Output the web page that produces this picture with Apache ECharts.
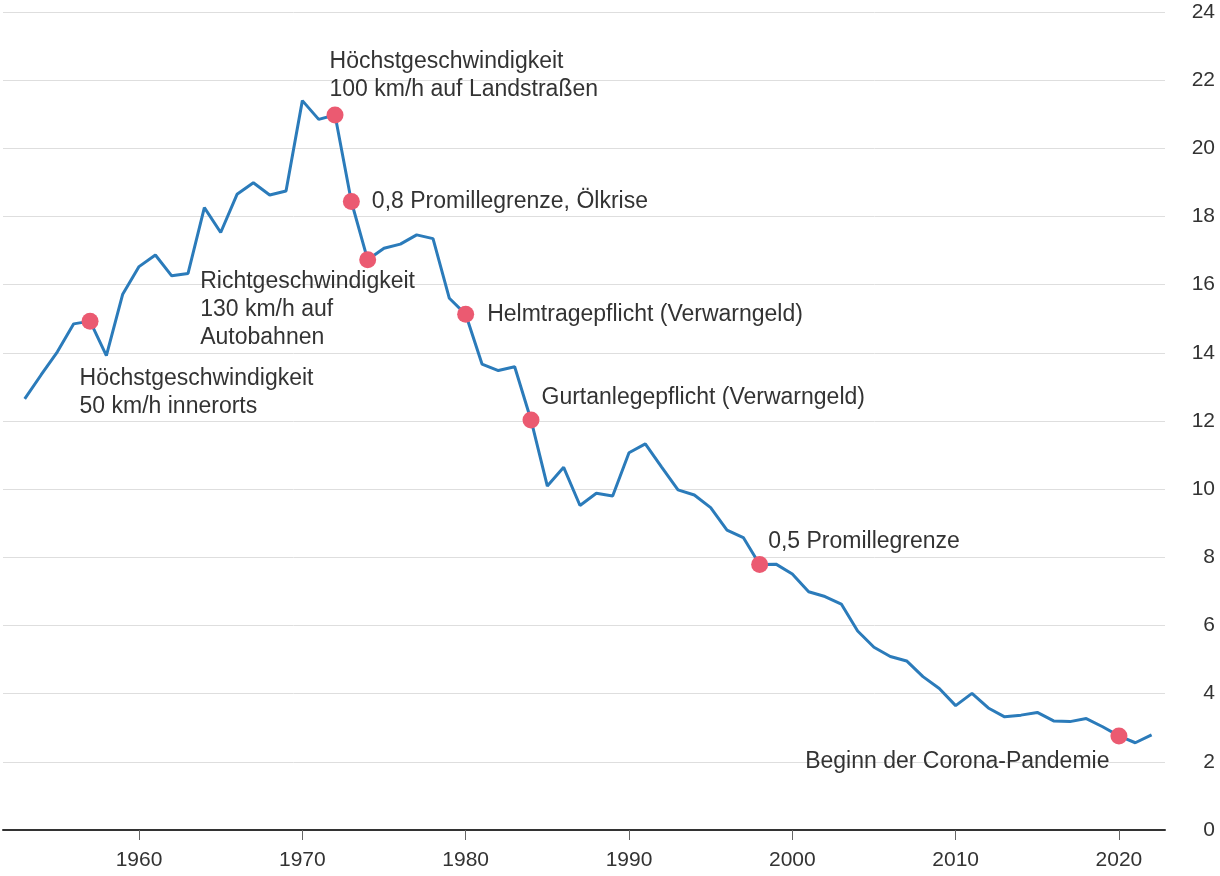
<!DOCTYPE html>
<html>
<head>
<meta charset="utf-8">
<script src="https://cdn.jsdelivr.net/npm/echarts@6/dist/echarts.min.js"></script>
<style>
html,body{margin:0;padding:0;background:#fff;}
#chart{width:1220px;height:876px;}
</style>
</head>
<body>
<div id="chart"></div>
<script>
// ---- data ----
const years = [1953,1954,1955,1956,1957,1958,1959,1960,1961,1962,1963,1964,1965,1966,1967,1968,1969,
  1970,1971,1972,1973,1974,1975,1976,1977,1978,1979,1980,1981,1982,1983,1984,1985,1986,1987,1988,1989,
  1990,1991,1992,1993,1994,1995,1996,1997,1998,1999,2000,2001,2002,2003,2004,2005,2006,2007,2008,2009,
  2010,2011,2012,2013,2014,2015,2016,2017,2018,2019,2020,2021,2022];
const values = [12.65,13.35,14.03,14.85,14.93,13.92,15.72,16.53,16.87,16.26,16.33,18.26,17.53,18.65,18.99,18.63,18.75,
  21.40,20.85,20.98,18.44,16.73,17.07,17.19,17.46,17.35,15.60,15.13,13.67,13.48,13.59,12.03,10.09,10.64,9.52,9.88,9.80,
  11.07,11.33,10.65,9.98,9.83,9.46,8.80,8.58,7.79,7.80,7.51,6.99,6.85,6.63,5.84,5.36,5.09,4.96,4.50,4.15,
  3.65,4.01,3.58,3.32,3.37,3.45,3.20,3.18,3.27,3.03,2.76,2.56,2.79];
const eventYears = [1957,1972,1973,1974,1980,1984,1998,2020];
const eventTexts = [
  "Höchstgeschwindigkeit\n50 km/h innerorts",
  "Höchstgeschwindigkeit\n100 km/h auf Landstraßen",
  "0,8 Promillegrenze, Ölkrise",
  "Richtgeschwindigkeit\n130 km/h auf\nAutobahnen",
  "Helmtragepflicht (Verwarngeld)",
  "Gurtanlegepflicht (Verwarngeld)",
  "0,5 Promillegrenze",
  "Beginn der Corona-Pandemie"
];
const xTicks = [1960,1970,1980,1990,2000,2010,2020];
const yTicks = [0,2,4,6,8,10,12,14,16,18,20,22,24];

// ---- label layout (styles, not data) ----
const labelLayouts = [
  {position:[-2,52], align:'left', verticalAlign:'top'},
  {position:[3,-3], align:'left', verticalAlign:'bottom'},
  {position:'right', distance:12},
  {position:[-159,16], align:'left', verticalAlign:'top'},
  {position:'right', distance:13},
  {position:[19,-14], align:'left', verticalAlign:'middle'},
  {position:[17,-14], align:'left', verticalAlign:'middle'},
  {position:[-1,34], align:'right', verticalAlign:'middle'}
];

const FONT = "'Liberation Sans', Arial, Helvetica, sans-serif";
const lineData = years.map((y,i)=>[y, values[i]]);
const eventData = eventYears.map((y,i)=>({
  value:[y, values[years.indexOf(y)]],
  label:Object.assign({show:true, formatter:eventTexts[i]}, labelLayouts[i])
}));

const chart = echarts.init(document.getElementById('chart'), null, {renderer:'canvas'});
chart.setOption({
  animation:false,
  backgroundColor:'#fff',
  grid:{left:3, right:55, top:12, bottom:46, containLabel:false},
  xAxis:{
    type:'value', min:1951.67, max:2022.82,
    splitLine:{show:false},
    axisLine:{show:true, lineStyle:{color:'#333', width:2}},
    axisTick:{show:true, customValues:xTicks, length:10, lineStyle:{color:'#666', width:1}},
    axisLabel:{customValues:xTicks, color:'#333', fontSize:21, fontFamily:FONT, margin:20,
      formatter:(v)=>String(Math.round(v))}
  },
  yAxis:{
    type:'value', position:'right', min:0, max:24, interval:2,
    axisLine:{show:false}, axisTick:{show:false},
    splitLine:{show:true, lineStyle:{color:'#dedede', width:1}},
    axisLabel:{color:'#333', fontSize:21, fontFamily:FONT, align:'right', margin:50,
      customValues:yTicks, formatter:(v)=>String(v)}
  },
  series:[
    {
      type:'line', data:lineData, showSymbol:false, symbol:'none',
      lineStyle:{color:'#2b7bba', width:3}, z:2
    },
    {
      type:'scatter', data:eventData, symbolSize:17,
      itemStyle:{color:'#eb5a71', opacity:1},
      label:{color:'#333', fontSize:23, fontFamily:FONT, lineHeight:28},
      z:3
    }
  ]
});
</script>
</body>
</html>
